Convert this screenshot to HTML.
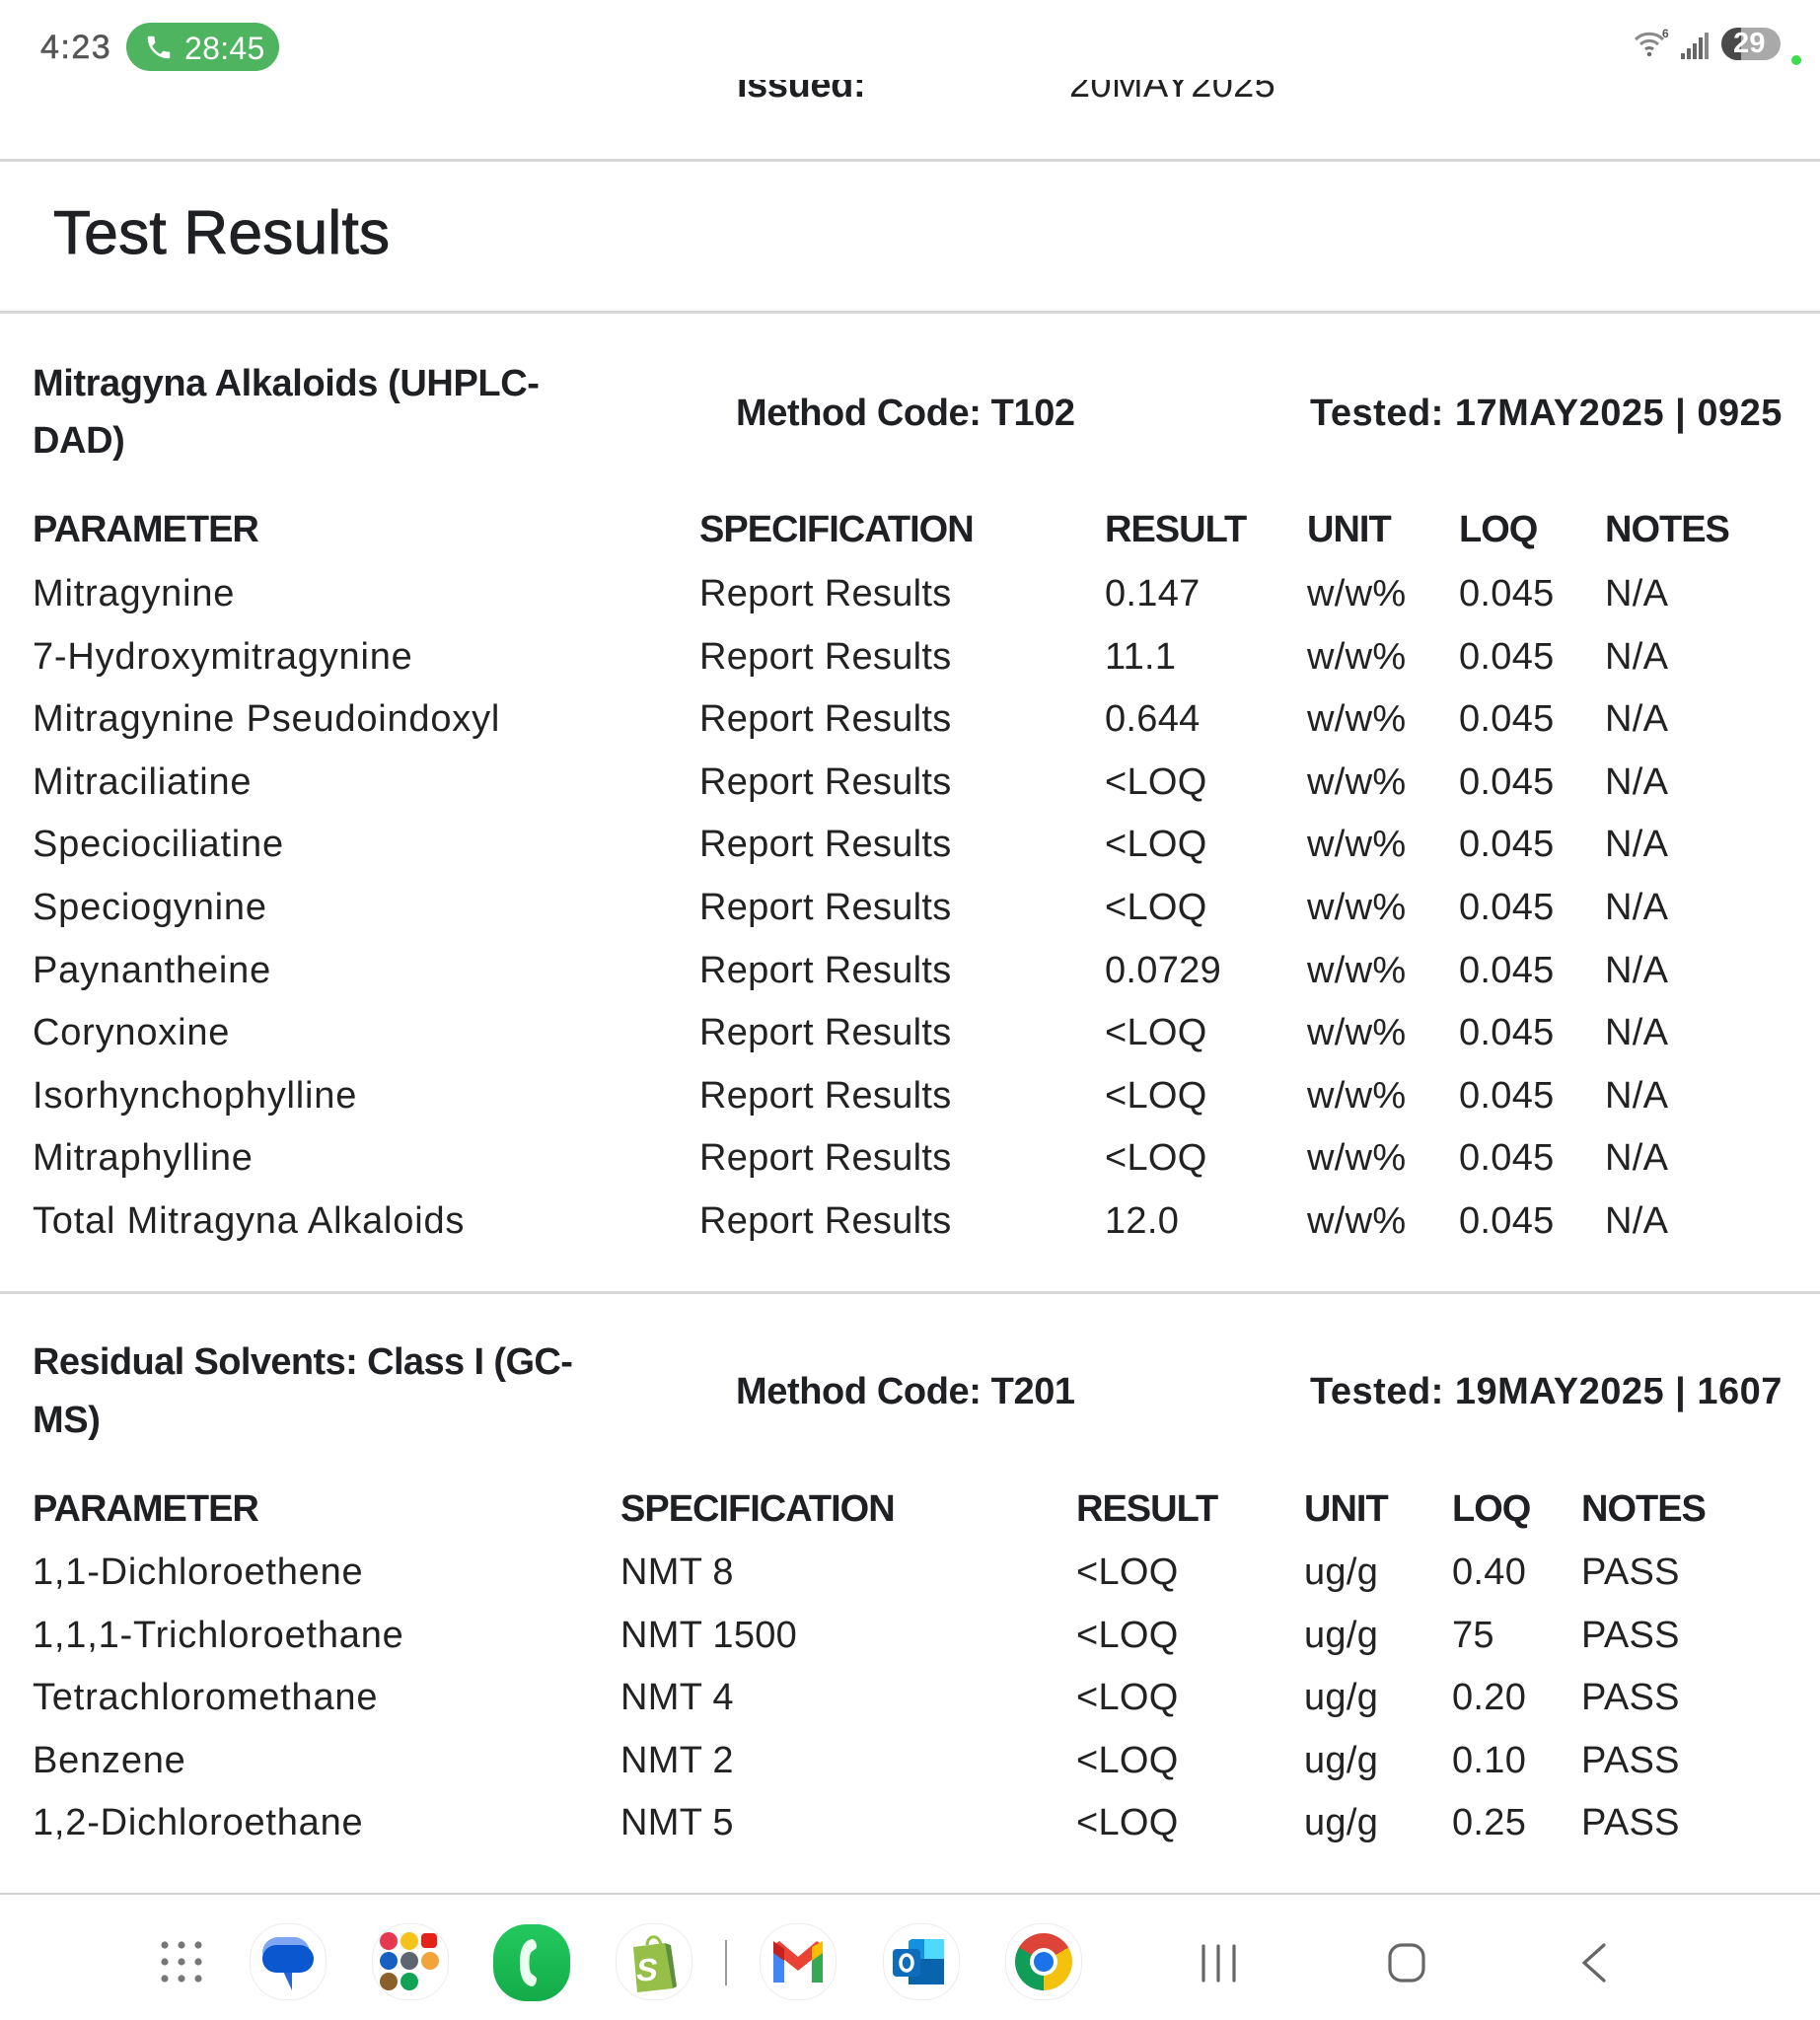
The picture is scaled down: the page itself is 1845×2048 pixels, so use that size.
<!DOCTYPE html>
<html>
<head>
<meta charset="utf-8">
<style>
html,body{margin:0;padding:0;background:#fff;}
body{width:1845px;height:2048px;position:relative;overflow:hidden;font-family:"Liberation Sans",Arial,sans-serif;color:#222;}
.t{position:absolute;white-space:nowrap;font-size:38px;line-height:38px;color:#222;letter-spacing:0.3px;}
.c1{letter-spacing:0.8px;}
.b{font-weight:bold;color:#1f2023;letter-spacing:-0.4px;}
.ts{letter-spacing:0.5px;}
.h{font-weight:bold;color:#1f2023;letter-spacing:-1px;}
.hr{position:absolute;left:0;width:1845px;height:3px;background:#d6d6d6;}
.ic{position:absolute;width:78px;height:78px;border-radius:36px;background:#fff;border:1px solid #ececec;box-sizing:border-box;}
</style>
</head>
<body>

<!-- partially hidden issued line -->
<div class="t b" style="left:747px;top:67px;">Issued:</div>
<div class="t" style="left:1084px;top:67px;color:#222;">20MAY2025</div>

<!-- status bar -->
<div style="position:absolute;left:0;top:0;width:1845px;height:81px;background:#fff;"></div>
<div class="t" style="left:41px;top:31px;font-size:34px;line-height:34px;color:#555;letter-spacing:1.5px;-webkit-text-stroke:0.5px #555;">4:23</div>
<div style="position:absolute;left:128px;top:23px;width:155px;height:49px;border-radius:25px;background:#4fb460;"></div>
<svg style="position:absolute;left:146px;top:33px;" width="30" height="30" viewBox="0 0 24 24"><path fill="#fff" d="M6.6 10.8c1.4 2.8 3.8 5.1 6.6 6.6l2.2-2.2c.3-.3.7-.4 1-.2 1.1.4 2.3.6 3.6.6.6 0 1 .4 1 1V20c0 .6-.4 1-1 1C10.6 21 3 13.4 3 4c0-.6.4-1 1-1h3.5c.6 0 1 .4 1 1 0 1.3.2 2.5.6 3.6.1.3 0 .7-.2 1L6.6 10.8z"/></svg>
<div class="t" style="left:187px;top:33px;font-size:32px;line-height:32px;color:#fff;">28:45</div>

<!-- right status icons -->
<svg style="position:absolute;left:1655px;top:28px;" width="40" height="32" viewBox="0 0 40 32">
  <path d="M3 12 A20 20 0 0 1 31 12" stroke="#8a8a8a" stroke-width="3" fill="none"/>
  <path d="M8 17 A13 13 0 0 1 26 17" stroke="#8a8a8a" stroke-width="3" fill="none"/>
  <path d="M13 22 A6 6 0 0 1 21 22" stroke="#777" stroke-width="3" fill="none"/>
  <circle cx="17" cy="27" r="2.2" fill="#666"/>
  <text x="30" y="10" font-family="Liberation Sans" font-weight="bold" font-size="12" fill="#555">6</text>
</svg>
<svg style="position:absolute;left:1703px;top:32px;" width="30" height="30" viewBox="0 0 30 30">
  <rect x="1" y="22" width="4" height="6" fill="#666"/>
  <rect x="7" y="17" width="4" height="11" fill="#666"/>
  <rect x="13" y="12" width="4" height="16" fill="#666"/>
  <rect x="19" y="6" width="4" height="22" fill="#666"/>
  <rect x="25" y="1" width="4" height="27" fill="#888"/>
</svg>
<div style="position:absolute;left:1745px;top:28px;width:60px;height:33px;border-radius:17px;background:#a9a9a9;overflow:hidden;">
  <div style="position:absolute;left:0;top:0;width:20px;height:33px;background:#4a4a4a;"></div>
</div>
<div class="t" style="left:1757px;top:30px;font-size:29px;line-height:29px;font-weight:bold;color:#fff;">29</div>
<div style="position:absolute;left:1816px;top:56px;width:10px;height:10px;border-radius:5px;background:#3ddc4f;"></div>

<div class="hr" style="top:161px;"></div>

<div class="t" style="left:54px;top:206px;font-size:62px;line-height:62px;color:#1f2023;letter-spacing:0.3px;-webkit-text-stroke:1px #1f2023;">Test Results</div>

<div class="hr" style="top:315px;"></div>

<!-- Section 1 -->
<div class="t b" style="left:33px;top:370px;">Mitragyna Alkaloids (UHPLC-</div>
<div class="t b" style="left:33px;top:428px;">DAD)</div>
<div class="t b" style="left:746px;top:400px;">Method Code: T102</div>
<div class="t b ts" style="left:1328px;top:400px;">Tested: 17MAY2025 | 0925</div>

<div class="t h" style="left:33px;top:518px;">PARAMETER</div>
<div class="t h" style="left:709px;top:518px;">SPECIFICATION</div>
<div class="t h" style="left:1120px;top:518px;">RESULT</div>
<div class="t h" style="left:1325px;top:518px;">UNIT</div>
<div class="t h" style="left:1479px;top:518px;">LOQ</div>
<div class="t h" style="left:1627px;top:518px;">NOTES</div>

<div class="t c1" style="left:33px;top:583px;">Mitragynine</div>
<div class="t" style="left:709px;top:583px;">Report Results</div>
<div class="t" style="left:1120px;top:583px;">0.147</div>
<div class="t" style="left:1325px;top:583px;">w/w%</div>
<div class="t" style="left:1479px;top:583px;">0.045</div>
<div class="t" style="left:1627px;top:583px;">N/A</div>

<div class="t c1" style="left:33px;top:646.6px;">7-Hydroxymitragynine</div>
<div class="t" style="left:709px;top:646.6px;">Report Results</div>
<div class="t" style="left:1120px;top:646.6px;">11.1</div>
<div class="t" style="left:1325px;top:646.6px;">w/w%</div>
<div class="t" style="left:1479px;top:646.6px;">0.045</div>
<div class="t" style="left:1627px;top:646.6px;">N/A</div>

<div class="t c1" style="left:33px;top:710.2px;">Mitragynine Pseudoindoxyl</div>
<div class="t" style="left:709px;top:710.2px;">Report Results</div>
<div class="t" style="left:1120px;top:710.2px;">0.644</div>
<div class="t" style="left:1325px;top:710.2px;">w/w%</div>
<div class="t" style="left:1479px;top:710.2px;">0.045</div>
<div class="t" style="left:1627px;top:710.2px;">N/A</div>

<div class="t c1" style="left:33px;top:773.8px;">Mitraciliatine</div>
<div class="t" style="left:709px;top:773.8px;">Report Results</div>
<div class="t" style="left:1120px;top:773.8px;">&lt;LOQ</div>
<div class="t" style="left:1325px;top:773.8px;">w/w%</div>
<div class="t" style="left:1479px;top:773.8px;">0.045</div>
<div class="t" style="left:1627px;top:773.8px;">N/A</div>

<div class="t c1" style="left:33px;top:837.4px;">Speciociliatine</div>
<div class="t" style="left:709px;top:837.4px;">Report Results</div>
<div class="t" style="left:1120px;top:837.4px;">&lt;LOQ</div>
<div class="t" style="left:1325px;top:837.4px;">w/w%</div>
<div class="t" style="left:1479px;top:837.4px;">0.045</div>
<div class="t" style="left:1627px;top:837.4px;">N/A</div>

<div class="t c1" style="left:33px;top:901px;">Speciogynine</div>
<div class="t" style="left:709px;top:901px;">Report Results</div>
<div class="t" style="left:1120px;top:901px;">&lt;LOQ</div>
<div class="t" style="left:1325px;top:901px;">w/w%</div>
<div class="t" style="left:1479px;top:901px;">0.045</div>
<div class="t" style="left:1627px;top:901px;">N/A</div>

<div class="t c1" style="left:33px;top:964.6px;">Paynantheine</div>
<div class="t" style="left:709px;top:964.6px;">Report Results</div>
<div class="t" style="left:1120px;top:964.6px;">0.0729</div>
<div class="t" style="left:1325px;top:964.6px;">w/w%</div>
<div class="t" style="left:1479px;top:964.6px;">0.045</div>
<div class="t" style="left:1627px;top:964.6px;">N/A</div>

<div class="t c1" style="left:33px;top:1028.2px;">Corynoxine</div>
<div class="t" style="left:709px;top:1028.2px;">Report Results</div>
<div class="t" style="left:1120px;top:1028.2px;">&lt;LOQ</div>
<div class="t" style="left:1325px;top:1028.2px;">w/w%</div>
<div class="t" style="left:1479px;top:1028.2px;">0.045</div>
<div class="t" style="left:1627px;top:1028.2px;">N/A</div>

<div class="t c1" style="left:33px;top:1091.8px;">Isorhynchophylline</div>
<div class="t" style="left:709px;top:1091.8px;">Report Results</div>
<div class="t" style="left:1120px;top:1091.8px;">&lt;LOQ</div>
<div class="t" style="left:1325px;top:1091.8px;">w/w%</div>
<div class="t" style="left:1479px;top:1091.8px;">0.045</div>
<div class="t" style="left:1627px;top:1091.8px;">N/A</div>

<div class="t c1" style="left:33px;top:1155.4px;">Mitraphylline</div>
<div class="t" style="left:709px;top:1155.4px;">Report Results</div>
<div class="t" style="left:1120px;top:1155.4px;">&lt;LOQ</div>
<div class="t" style="left:1325px;top:1155.4px;">w/w%</div>
<div class="t" style="left:1479px;top:1155.4px;">0.045</div>
<div class="t" style="left:1627px;top:1155.4px;">N/A</div>

<div class="t c1" style="left:33px;top:1219px;">Total Mitragyna Alkaloids</div>
<div class="t" style="left:709px;top:1219px;">Report Results</div>
<div class="t" style="left:1120px;top:1219px;">12.0</div>
<div class="t" style="left:1325px;top:1219px;">w/w%</div>
<div class="t" style="left:1479px;top:1219px;">0.045</div>
<div class="t" style="left:1627px;top:1219px;">N/A</div>

<div class="hr" style="top:1309px;"></div>

<!-- Section 2 -->
<div class="t b" style="left:33px;top:1362px;letter-spacing:-0.6px;">Residual Solvents: Class I (GC-</div>
<div class="t b" style="left:33px;top:1421px;">MS)</div>
<div class="t b" style="left:746px;top:1392px;">Method Code: T201</div>
<div class="t b ts" style="left:1328px;top:1392px;">Tested: 19MAY2025 | 1607</div>

<div class="t h" style="left:33px;top:1511px;">PARAMETER</div>
<div class="t h" style="left:629px;top:1511px;">SPECIFICATION</div>
<div class="t h" style="left:1091px;top:1511px;">RESULT</div>
<div class="t h" style="left:1322px;top:1511px;">UNIT</div>
<div class="t h" style="left:1472px;top:1511px;">LOQ</div>
<div class="t h" style="left:1603px;top:1511px;">NOTES</div>

<div class="t c1" style="left:33px;top:1575px;">1,1-Dichloroethene</div>
<div class="t" style="left:629px;top:1575px;">NMT 8</div>
<div class="t" style="left:1091px;top:1575px;">&lt;LOQ</div>
<div class="t" style="left:1322px;top:1575px;">ug/g</div>
<div class="t" style="left:1472px;top:1575px;">0.40</div>
<div class="t" style="left:1603px;top:1575px;">PASS</div>

<div class="t c1" style="left:33px;top:1638.6px;">1,1,1-Trichloroethane</div>
<div class="t" style="left:629px;top:1638.6px;">NMT 1500</div>
<div class="t" style="left:1091px;top:1638.6px;">&lt;LOQ</div>
<div class="t" style="left:1322px;top:1638.6px;">ug/g</div>
<div class="t" style="left:1472px;top:1638.6px;">75</div>
<div class="t" style="left:1603px;top:1638.6px;">PASS</div>

<div class="t c1" style="left:33px;top:1702.2px;">Tetrachloromethane</div>
<div class="t" style="left:629px;top:1702.2px;">NMT 4</div>
<div class="t" style="left:1091px;top:1702.2px;">&lt;LOQ</div>
<div class="t" style="left:1322px;top:1702.2px;">ug/g</div>
<div class="t" style="left:1472px;top:1702.2px;">0.20</div>
<div class="t" style="left:1603px;top:1702.2px;">PASS</div>

<div class="t c1" style="left:33px;top:1765.8px;">Benzene</div>
<div class="t" style="left:629px;top:1765.8px;">NMT 2</div>
<div class="t" style="left:1091px;top:1765.8px;">&lt;LOQ</div>
<div class="t" style="left:1322px;top:1765.8px;">ug/g</div>
<div class="t" style="left:1472px;top:1765.8px;">0.10</div>
<div class="t" style="left:1603px;top:1765.8px;">PASS</div>

<div class="t c1" style="left:33px;top:1829.4px;">1,2-Dichloroethane</div>
<div class="t" style="left:629px;top:1829.4px;">NMT 5</div>
<div class="t" style="left:1091px;top:1829.4px;">&lt;LOQ</div>
<div class="t" style="left:1322px;top:1829.4px;">ug/g</div>
<div class="t" style="left:1472px;top:1829.4px;">0.25</div>
<div class="t" style="left:1603px;top:1829.4px;">PASS</div>

<div class="hr" style="top:1919px;height:2px;background:#cfcfcf;"></div>

<!-- Nav bar -->
<svg style="position:absolute;left:160px;top:1965px;" width="48" height="48" viewBox="0 0 48 48">
  <g fill="#777">
    <circle cx="7" cy="7" r="3.6"/><circle cx="24" cy="7" r="3.6"/><circle cx="41" cy="7" r="3.6"/>
    <circle cx="7" cy="24" r="3.6"/><circle cx="24" cy="24" r="3.6"/><circle cx="41" cy="24" r="3.6"/>
    <circle cx="7" cy="41" r="3.6"/><circle cx="24" cy="41" r="3.6"/><circle cx="41" cy="41" r="3.6"/>
  </g>
</svg>

<!-- messages -->
<div class="ic" style="left:253px;top:1950px;"></div>
<svg style="position:absolute;left:262px;top:1962px;" width="60" height="58" viewBox="0 0 60 58">
  <rect x="4" y="2" width="48" height="32" rx="16" fill="#7ea6f2"/>
  <path d="M22 30 L34 30 L34 56 Z" fill="#2a63d6"/>
  <rect x="4" y="10" width="52" height="28" rx="14" fill="#0b57d0"/>
</svg>

<!-- folder -->
<div class="ic" style="left:377px;top:1950px;"></div>
<div style="position:absolute;left:385px;top:1959px;width:18px;height:18px;border-radius:9px;background:#e53950;"></div>
<div style="position:absolute;left:406px;top:1959px;width:18px;height:18px;border-radius:9px;background:#f6c31b;"></div>
<div style="position:absolute;left:427px;top:1960px;width:16px;height:15px;border-radius:4px;background:#e62117;"></div>
<div style="position:absolute;left:385px;top:1979px;width:18px;height:18px;border-radius:9px;background:#1660c2;"></div>
<div style="position:absolute;left:406px;top:1979px;width:18px;height:18px;border-radius:9px;background:#5d6670;"></div>
<div style="position:absolute;left:427px;top:1979px;width:18px;height:18px;border-radius:9px;background:#f2a33a;"></div>
<div style="position:absolute;left:385px;top:2000px;width:18px;height:18px;border-radius:9px;background:#8a5f2a;"></div>
<div style="position:absolute;left:406px;top:2000px;width:18px;height:18px;border-radius:9px;background:#10a357;"></div>

<!-- phone -->
<div style="position:absolute;left:500px;top:1951px;width:78px;height:78px;border-radius:34px;background:linear-gradient(#22c95e,#14ab49);"></div>
<svg style="position:absolute;left:517px;top:1962px;" width="44" height="56" viewBox="0 0 44 56">
  <path d="M22 4 C12 6 10 18 10 28 C10 38 12 50 22 52 C25 52 27 48 27 44 C27 42 22 40 21 38 C19 34 19 22 21 18 C22 16 27 14 27 12 C27 8 25 4 22 4 Z" fill="#eafff0"/>
</svg>

<!-- shopify -->
<div class="ic" style="left:624px;top:1950px;"></div>
<svg style="position:absolute;left:634px;top:1958px;" width="58" height="64" viewBox="0 0 58 64">
  <path d="M22 14 C22 4 34 2 36 14" stroke="#95bf47" stroke-width="3" fill="none"/>
  <path d="M8 16 L40 12 L48 58 L12 62 Z" fill="#95bf47"/>
  <path d="M40 12 L48 58 L52 56 L46 14 Z" fill="#5e8e3e"/>
  <text x="17" y="50" font-family="Liberation Sans" font-weight="bold" font-size="32" fill="#fff" transform="skewX(-8)">S</text>
</svg>

<!-- separator -->
<div style="position:absolute;left:735px;top:1967px;width:2px;height:46px;background:#999;"></div>

<!-- gmail -->
<div class="ic" style="left:770px;top:1950px;"></div>
<svg style="position:absolute;left:782px;top:1966px;" width="54" height="46" viewBox="0 0 54 46">
  <rect x="2" y="6" width="11" height="38" fill="#4285f4"/>
  <rect x="41" y="6" width="11" height="38" fill="#34a853"/>
  <path d="M2 6 L8 2 L27 18 L46 2 L52 6 L52 12 L27 32 L2 12 Z" fill="#ea4335"/>
  <path d="M41 8 L52 2 L52 14 L41 22 Z" fill="#fbbc04"/>
  <path d="M2 2 L13 10 L13 22 L2 14 Z" fill="#c5221f"/>
</svg>

<!-- outlook -->
<div class="ic" style="left:895px;top:1950px;"></div>
<svg style="position:absolute;left:903px;top:1964px;" width="60" height="52" viewBox="0 0 60 52">
  <rect x="18" y="2" width="36" height="46" rx="4" fill="#1490df"/>
  <rect x="34" y="2" width="20" height="20" fill="#50d9ff"/>
  <rect x="18" y="22" width="36" height="26" fill="#0a64ad"/>
  <rect x="2" y="12" width="28" height="28" rx="4" fill="#0f6cbd"/>
  <ellipse cx="16" cy="26" rx="6" ry="8" stroke="#fff" stroke-width="3.5" fill="none"/>
</svg>

<!-- chrome -->
<div class="ic" style="left:1019px;top:1950px;"></div>
<div style="position:absolute;left:1029px;top:1960px;width:58px;height:58px;border-radius:50%;background:conic-gradient(from -60deg,#db4437 0deg 120deg,#f4c20d 120deg 240deg,#0f9d58 240deg 360deg);"></div>
<div style="position:absolute;left:1044px;top:1975px;width:28px;height:28px;border-radius:50%;background:#fff;"></div>
<div style="position:absolute;left:1048px;top:1979px;width:20px;height:20px;border-radius:50%;background:#1a73e8;"></div>

<!-- system nav -->
<svg style="position:absolute;left:1210px;top:1965px;" width="440" height="50" viewBox="0 0 440 50">
  <g stroke="#666" stroke-width="3.2" fill="none" stroke-linecap="round">
    <line x1="10" y1="8" x2="10" y2="43"/>
    <line x1="25" y1="8" x2="25" y2="43"/>
    <line x1="41" y1="8" x2="41" y2="43"/>
    <rect x="199" y="7" width="34" height="36" rx="12"/>
    <polyline points="416,7 396,25 416,43"/>
  </g>
</svg>

</body>
</html>
